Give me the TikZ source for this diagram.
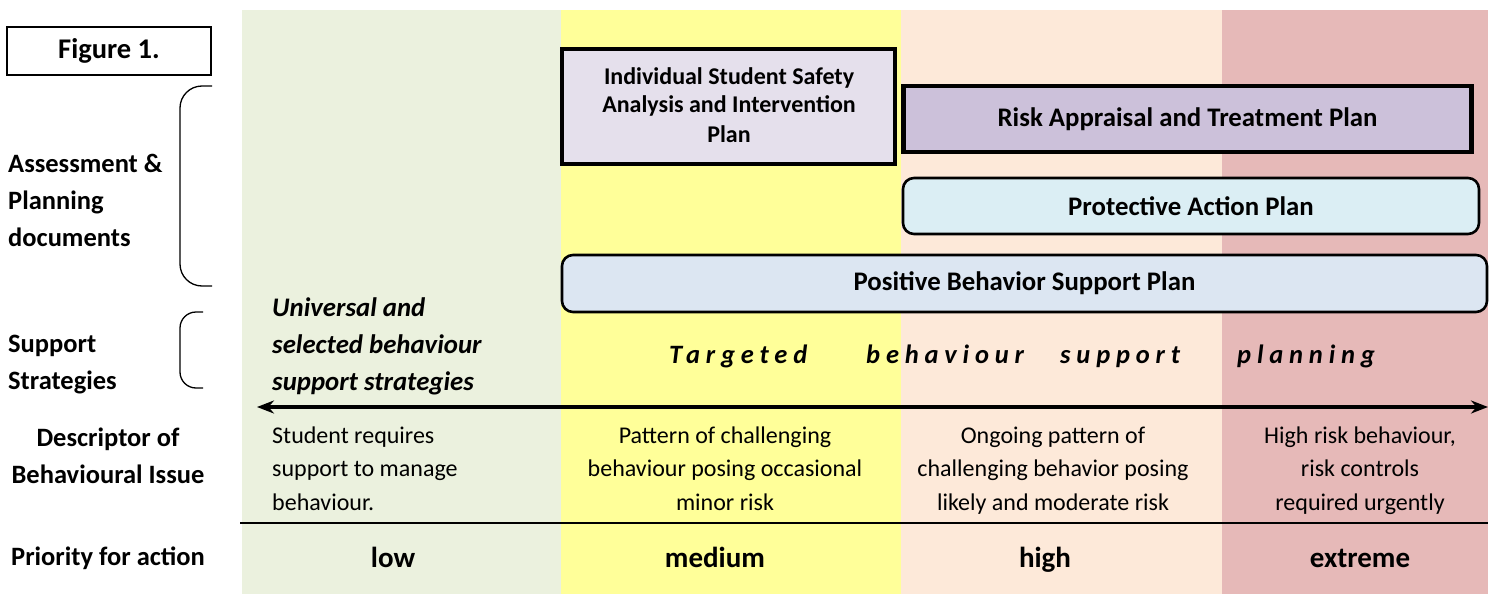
\documentclass[tikz,border=0pt]{standalone}
\usepackage{fontspec}
\setmainfont{Carlito}
\usetikzlibrary{arrows.meta}

% band colours (low / medium / high / extreme)
\definecolor{bandlow}{HTML}{EBF1DE}
\definecolor{bandmed}{HTML}{FFFF99}
\definecolor{bandhigh}{HTML}{FDE9D9}
\definecolor{bandext}{HTML}{E6B9B8}
% plan box fills
\definecolor{lavlight}{HTML}{E5E0EC}
\definecolor{lavmid}{HTML}{CCC1DA}
\definecolor{aqualight}{HTML}{DBEEF4}
\definecolor{bluelight}{HTML}{DCE6F2}

% multi-line nodes are placed by the baseline of their last line
\tikzset{
  sideLabel/.style={font=\fontsize{26.5}{37}\selectfont\bfseries, align=left, inner sep=0pt, anchor=base west},
  planText/.style={font=\fontsize{26.8}{30}\selectfont\bfseries, align=center, inner sep=0pt},
  squareBox/.style={draw=black, line width=4pt, inner sep=0pt},
  roundBox/.style={draw=black, line width=2.6pt, rounded corners=11pt, inner sep=0pt},
  descText/.style={font=\fontsize{24}{33.5}\selectfont, inner sep=0pt, anchor=base},
  prioText/.style={font=\fontsize{29}{32}\selectfont\bfseries, inner sep=0pt, anchor=base},
  spaced/.style={font=\fontsize{26.5}{30}\selectfont\bfseries\itshape\addfontfeature{LetterSpace=22}, inner sep=0pt, anchor=base west},
  brace/.style={draw=black, line width=1.3pt, rounded corners=22pt},
}

\begin{document}
\begin{tikzpicture}[x=1pt,y=-1pt]
\useasboundingbox (0,0) rectangle (1489,594);
\fill[white] (0,0) rectangle (1489,594);

% priority bands
\fill[bandlow]  (242,10) rectangle (561,594);
\fill[bandmed]  (561,10) rectangle (901,594);
\fill[bandhigh] (901,10) rectangle (1222,594);
\fill[bandext]  (1222,10) rectangle (1488,594);

% title
\node[draw=black, line width=1.8pt, minimum width=204pt, minimum height=48pt, inner sep=0pt,
      font=\fontsize{28.5}{30}\selectfont\bfseries] (title) at (109,51) {Figure 1.};

% left-hand row labels
\node[sideLabel] (assess) at (8,246) {Assessment \&\\Planning\\documents};
\node[sideLabel] (support) at (8,389) {Support\\Strategies};
\node[sideLabel, align=center, anchor=base] (descr) at (108,483) {Descriptor of\\Behavioural Issue};
\node[sideLabel] (prio) at (11,565) {Priority for action};

% braces
\draw[brace] (212,86) -- (180,86) -- (180,286) -- (212,286);
\draw[brace, rounded corners=16pt] (203,312) -- (180,312) -- (180,388) -- (203,388);

% assessment and planning documents
\node[squareBox, fill=lavlight, minimum width=333pt, minimum height=115pt] (issa) at (728.5,106.5) {};
\node[planText, font=\fontsize{24}{29}\selectfont\bfseries, anchor=base] (issaText) at (729,142) {Individual Student Safety\\Analysis and Intervention\\Plan};
\node[squareBox, line width=4.5pt, fill=lavmid, minimum width=568pt, minimum height=66pt] (risk) at (1187.5,119) {};
\node[planText] at (risk) {Risk Appraisal and Treatment Plan};
\node[roundBox, fill=aqualight, minimum width=576pt, minimum height=56pt] (protect) at (1191,206) {};
\node[planText] at (protect) {Protective Action Plan};
\node[roundBox, fill=bluelight, minimum width=925pt, minimum height=57pt] (pbsp) at (1024.5,283.5) {};
\node[planText] at (pbsp) {Positive Behavior Support Plan};

% support strategies
\node[sideLabel, font=\fontsize{26.8}{37}\selectfont\bfseries\itshape] (universal) at (272,390)
  {Universal and\\selected behaviour\\support strategies};
\node[spaced] (w1) at (669,363) {Targeted};
\node[spaced] (w2) at (866,363) {behaviour};
\node[spaced] (w3) at (1060,363) {support};
\node[spaced] (w4) at (1237,363) {planning};

% continuum arrow and divider
\coordinate (arrL) at (257,407);
\coordinate (arrR) at (1488,407);
\draw[line width=3.5pt, {Stealth[length=17pt,width=13pt]}-{Stealth[length=17pt,width=13pt]}] (arrL) -- (arrR);
\coordinate (divL) at (240,523);
\coordinate (divR) at (1488,523);
\draw[line width=2.6pt] (divL) -- (divR);

% descriptors of the behavioural issue
\node[descText, anchor=base west, align=left] (dLow) at (272,510) {Student requires\\support to manage\\behaviour.};
\node[descText, align=center] (dMed) at (725,510) {Pattern of challenging\\behaviour posing occasional\\minor risk};
\node[descText, align=center] (dHigh) at (1053,510) {Ongoing pattern of\\challenging behavior posing\\likely and moderate risk};
\node[descText, align=center] (dExt) at (1360,510) {High risk behaviour,\\risk controls\\required urgently};

% priority for action
\node[prioText] (pLow) at (393,567) {low};
\node[prioText] (pMed) at (715,567) {medium};
\node[prioText] (pHigh) at (1045,567) {high};
\node[prioText] (pExt) at (1360,567) {extreme};
\end{tikzpicture}
\end{document}
